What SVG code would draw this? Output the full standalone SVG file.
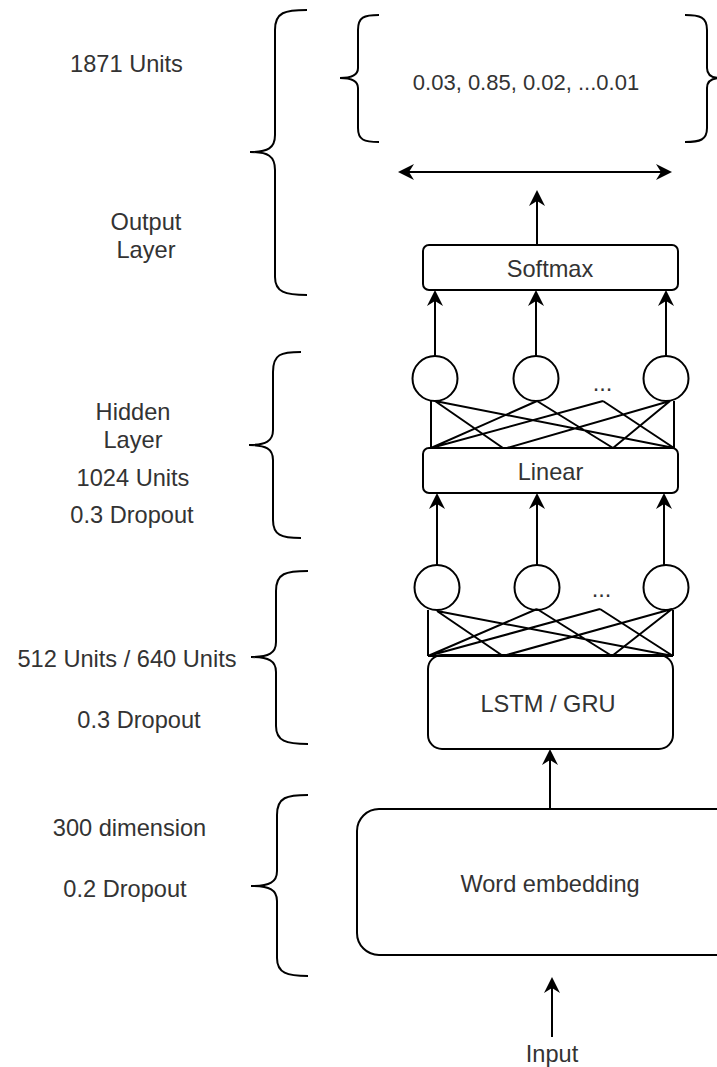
<svg xmlns="http://www.w3.org/2000/svg" width="717" height="1067" viewBox="0 0 717 1067">
<style>
.ln{fill:none;stroke:#000;stroke-width:2}
.box{fill:#fff;stroke:#000;stroke-width:2}
.t{font-family:"Liberation Sans",Arial,sans-serif;font-size:23.6px;fill:#333;text-anchor:middle}
.ts{font-size:22px}
.arr{marker-end:url(#ah)}
</style>
<defs>
<marker id="ah" viewBox="0 0 16 16" refX="10" refY="8" markerWidth="16" markerHeight="16" markerUnits="userSpaceOnUse" orient="auto-start-reverse">
<path d="M0,0 L16,8 L0,16 L5,8 Z" fill="#000"/>
</marker>
</defs>
<rect width="717" height="1067" fill="#fff"/>

<g id="braces" class="ln">
<path d="M307,10 C285,10 275,12 275,30 L275,135 C275,148 268,152 250,152 C268,152 275,156 275,170 L275,277 C275,292 285,295 307,295"/>
<path d="M301,352 C281,352 273,354 273,372 L273,430 C273,441 266,445 249,445 C266,445 273,449 273,460 L273,520 C273,535 281,538 301,538"/>
<path d="M308,571 C286,571 276,573 276,591 L276,642 C276,653 269,657 251,657 C269,657 276,661 276,672 L276,726 C276,741 286,744 308,744"/>
<path d="M308,795 C287,795 277,797 277,815 L277,871 C277,882 270,886 251,886 C270,886 277,890 277,901 L277,958 C277,973 287,976 308,976"/>
<path d="M379,15 C364,15 358,17 358,30 L358,68 C358,75 352,78 340,78 C352,78 358,81 358,88 L358,128 C358,140 364,142 379,142"/>
<path d="M685,15 C700,15 707,17 707,30 L707,68 C707,75 712,78 720,78 C712,78 707,81 707,88 L707,128 C707,140 700,142 685,142"/>
</g>

<g id="labels">
<text class="t" x="126.5" y="72">1871 Units</text>
<text class="t" x="146" y="230">Output</text>
<text class="t" x="146" y="258">Layer</text>
<text class="t" x="133" y="420">Hidden</text>
<text class="t" x="133" y="448">Layer</text>
<text class="t" x="133" y="486">1024 Units</text>
<text class="t" x="132" y="523">0.3 Dropout</text>
<text class="t" x="127" y="667">512 Units / 640 Units</text>
<text class="t" x="139" y="728">0.3 Dropout</text>
<text class="t" x="129.5" y="836">300 dimension</text>
<text class="t" x="125" y="897">0.2 Dropout</text>
</g>

<g id="output-values">
<text class="t ts" x="526" y="90">0.03, 0.85, 0.02, ...0.01</text>
</g>

<g id="softmax">
<rect class="box" x="423" y="245" width="255" height="45" rx="6"/>
<text class="t" x="550" y="277">Softmax</text>
</g>

<g id="hidden-neurons">
<circle class="box" cx="435" cy="378.5" r="22.5"/>
<circle class="box" cx="536" cy="378.5" r="22.5"/>
<circle class="box" cx="666" cy="378.5" r="22.5"/>
<text class="t" x="602.5" y="391">...</text>
</g>

<g id="linear">
<rect class="box" x="423" y="448" width="255" height="45" rx="6"/>
<text class="t" x="550.5" y="480">Linear</text>
</g>

<g id="lstm-neurons">
<circle class="box" cx="437" cy="587.5" r="22.5"/>
<circle class="box" cx="537" cy="587.5" r="22.5"/>
<circle class="box" cx="666" cy="587.5" r="22.5"/>
<text class="t" x="601.5" y="597">...</text>
</g>

<g id="lstm">
<rect class="box" x="428" y="655" width="245" height="94" rx="14"/>
<text class="t" x="548" y="712">LSTM / GRU</text>
</g>

<g id="embedding">
<rect class="box" x="357" y="809" width="390" height="146" rx="22"/>
<text class="t" x="550" y="892">Word embedding</text>
</g>

<g id="input">
<text class="t" x="552" y="1062">Input</text>
</g>

<g id="connectors">
<g class="ln">
<path d="M431,401 L431,448 M674,401 L674,448 M431,448 L674,448"/>
<path d="M435,401 L503,448 M435,401 L674,448 M431,448 L537,401 M537,401 L613,448 M431,448 L603,401 M603,401 L674,448 M507,448 L670,401 M613,448 L670,401"/>
<path d="M428,610 L428,656 M673,610 L673,656 M428,656 L673,656"/>
<path d="M437,611 L503,656 M437,611 L673,656 M428,656 L537,609 M537,609 L612,656 M428,656 L600,609 M600,609 L673,656 M503,656 L672,609 M612,656 L672,609"/>
</g>
<g class="ln arr">
<path d="M404,172 L666,172" marker-start="url(#ah)"/>
<path d="M537,245 L537,196"/>
<path d="M435,356 L435,296"/>
<path d="M536,356 L536,296"/>
<path d="M666,356 L666,296"/>
<path d="M437,565 L437,499"/>
<path d="M537,565 L537,499"/>
<path d="M664,565 L664,499"/>
<path d="M550,809 L550,755"/>
<path d="M552,1037 L552,983"/>
</g>
</g>
</svg>
